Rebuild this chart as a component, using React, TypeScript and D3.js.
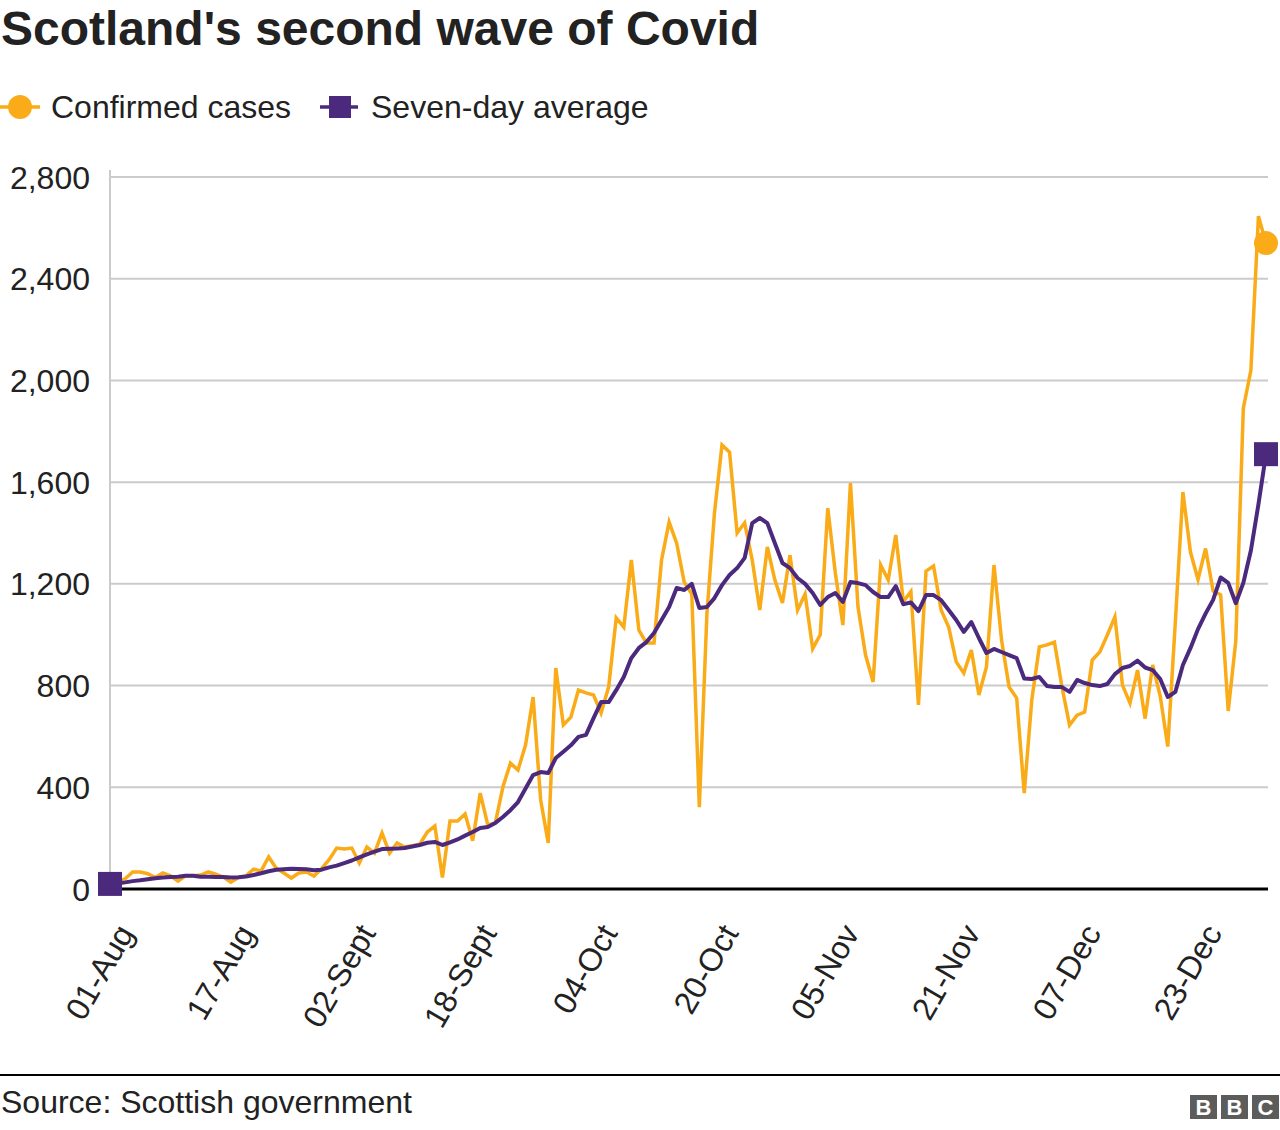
import React from 'react';
import * as d3 from 'd3';

const dateLabels = ['01-Aug', '17-Aug', '02-Sept', '18-Sept', '04-Oct', '20-Oct', '05-Nov', '21-Nov', '07-Dec', '23-Dec'];
const labelDays = [0, 16, 32, 48, 64, 80, 96, 112, 128, 144];
const yTicks = [0, 400, 800, 1200, 1600, 2000, 2400, 2800];

const confirmedCases = [
  27, 30, 40, 67, 67, 60, 45, 63, 52, 31,
  52, 52, 55, 67, 58, 47, 27, 45, 52, 78,
  71, 126, 82, 63, 43, 63, 67, 51, 80, 115,
  161, 157, 161, 102, 165, 141, 220, 141, 181, 165,
  170, 176, 224, 248, 45, 267, 267, 295, 190, 377,
  252, 260, 401, 495, 468, 566, 755, 350, 181, 869,
  645, 676, 782, 771, 763, 692, 795, 1066, 1030, 1294,
  1018, 967, 967, 1294, 1443, 1360, 1207, 1160, 322, 1080,
  1478, 1746, 1718, 1400, 1440, 1294, 1097, 1345, 1215, 1125,
  1313, 1097, 1160, 945, 1000, 1498, 1243, 1038, 1596, 1109,
  920, 814, 1274, 1215, 1392, 1130, 1170, 724, 1250, 1270,
  1097, 1030, 893, 849, 940, 763, 873, 1274, 979, 794,
  751, 377, 743, 952, 960, 971, 794, 645, 684, 696,
  900, 932, 999, 1070, 802, 731, 861, 670, 881, 759,
  560, 1050, 1561, 1325, 1217, 1339, 1172, 1157, 700, 975,
  1891, 2040, 2646, 2540,
];

const sevenDayAverage = [
  20, 22, 26, 31, 34, 38, 42, 45, 47, 48,
  52, 52, 48, 48, 47, 47, 45, 46, 49, 55,
  62, 70, 76, 78, 80, 79, 78, 74, 76, 85,
  92, 102, 112, 124, 136, 147, 157, 158, 159, 161,
  167, 173, 182, 185, 173, 183, 195, 210, 224, 240,
  244, 260, 283, 310, 342, 395, 448, 460, 456, 515,
  540, 565, 598, 606, 672, 735, 735, 782, 834, 908,
  948, 971, 1007, 1058, 1109, 1184, 1176, 1200, 1105, 1109,
  1144, 1195, 1235, 1262, 1302, 1439, 1459, 1439, 1360, 1282,
  1262, 1223, 1200, 1164, 1117, 1148, 1164, 1129, 1207, 1203,
  1195, 1168, 1148, 1148, 1191, 1120, 1127, 1093, 1156, 1156,
  1136, 1097, 1058, 1011, 1050, 987, 928, 944, 932, 920,
  908, 828, 826, 834, 798, 794, 794, 775, 822, 810,
  802, 798, 806, 845, 869, 877, 898, 871, 861, 826,
  755, 775, 881, 947, 1022, 1083, 1137, 1225, 1204, 1124,
  1204, 1331, 1513, 1710,
];

const ORANGE = '#FAAB18';
const PURPLE = '#4B2A7E';
const FONT = '"Liberation Sans", Arial, Helvetica, sans-serif';

export default function App() {
  const W = 1280;
  const H = 1130;
  const left = 110;
  const right = 1268;
  const n = confirmedCases.length;
  const x = d3.scaleLinear().domain([0, n - 1]).range([110, 1266]);
  const y = d3.scaleLinear().domain([0, 2800]).range([889, 177]);

  const line = d3
    .line<number>()
    .x((_, i) => x(i))
    .y((d) => y(d));

  const lastI = n - 1;
  const sq = 24;
  const fs = 32;

  return (
    <svg
      width={W}
      height={H}
      viewBox={`0 0 ${W} ${H}`}
      style={{ position: 'absolute', left: 0, top: 0, background: '#fff' }}
      fontFamily={FONT}
    >
      <rect x={0} y={0} width={W} height={H} fill="#fff" />
      <text x={1} y={45} fontSize={48} fontWeight="bold" fill="#222">
        Scotland's second wave of Covid
      </text>

      {/* legend */}
      <line x1={0} x2={40} y1={107} y2={107} stroke={ORANGE} strokeWidth={3.5} />
      <circle cx={20} cy={107} r={12} fill={ORANGE} />
      <text x={51} y={118} fontSize={fs} fill="#222">Confirmed cases</text>
      <line x1={320} x2={358} y1={107} y2={107} stroke={PURPLE} strokeWidth={3.5} />
      <rect x={340 - 11} y={107 - 11} width={22} height={22} fill={PURPLE} />
      <text x={371} y={118} fontSize={fs} fill="#222">Seven-day average</text>

      {/* grid */}
      {yTicks.map((t) => (
        <g key={t}>
          {t !== 0 && (
            <line x1={left} x2={right} y1={y(t)} y2={y(t)} stroke="#cbcbcb" strokeWidth={2} />
          )}
          <text x={90} y={y(t)} dy="0.36em" textAnchor="end" fontSize={fs} fill="#222">
            {d3.format(',')(t)}
          </text>
        </g>
      ))}
      <line x1={left} x2={left} y1={170} y2={889} stroke="#cbcbcb" strokeWidth={2} />

      {/* x labels */}
      {labelDays.map((d, i) => (
        <text
          key={d}
          transform={`translate(${x(d) + 25},${933}) rotate(-60)`}
          textAnchor="end"
          fontSize={fs}
          fill="#222"
        >
          {dateLabels[i]}
        </text>
      ))}

      {/* baseline */}
      <line x1={left} x2={right} y1={889} y2={889} stroke="#000" strokeWidth={3} />

      {/* lines */}
      <path d={line(confirmedCases) || ''} fill="none" stroke={ORANGE} strokeWidth={3.5} strokeLinejoin="miter" />
      <path d={line(sevenDayAverage) || ''} fill="none" stroke={PURPLE} strokeWidth={4} strokeLinejoin="round" />

      {/* markers */}
      <circle cx={x(lastI)} cy={y(confirmedCases[lastI])} r={12} fill={ORANGE} />
      <rect x={x(0) - sq / 2} y={y(sevenDayAverage[0]) - sq / 2} width={sq} height={sq} fill={PURPLE} />
      <rect
        x={x(lastI) - sq / 2}
        y={y(sevenDayAverage[lastI]) - sq / 2}
        width={sq}
        height={sq}
        fill={PURPLE}
      />

      {/* footer */}
      <line x1={0} x2={W} y1={1075} y2={1075} stroke="#000" strokeWidth={2} />
      <text x={1} y={1113} fontSize={fs} fill="#222">Source: Scottish government</text>
      {['B', 'B', 'C'].map((c, i) => (
        <g key={i}>
          <rect x={1190 + i * 31} y={1095} width={27} height={24} fill="#5c5c5c" />
          <text
            x={1190 + i * 31 + 13.5}
            y={1115}
            textAnchor="middle"
            fontSize={22}
            fontWeight="bold"
            fill="#fff"
          >
            {c}
          </text>
        </g>
      ))}
    </svg>
  );
}
